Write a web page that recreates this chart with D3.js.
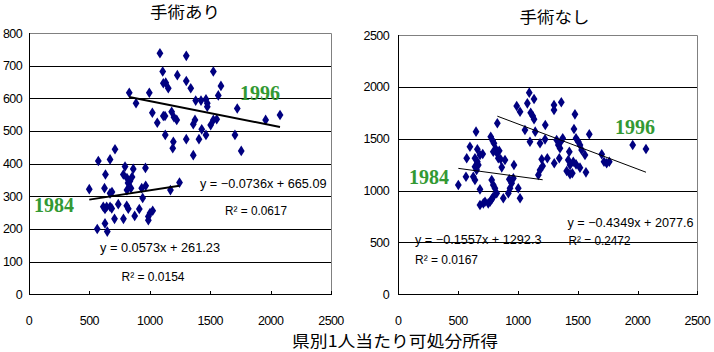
<!DOCTYPE html>
<html><head><meta charset="utf-8">
<script src="https://cdn.jsdelivr.net/npm/d3@7"></script>
<style>body{margin:0;background:#fff}svg{display:block}</style>
</head><body>
<svg id="c" width="714" height="352"></svg>
<script>
// ---------- data ----------
const xTicks = [0, 500, 1000, 1500, 2000, 2500];
const leftYTicks = [0, 100, 200, 300, 400, 500, 600, 700, 800];
const rightYTicks = [0, 500, 1000, 1500, 2000, 2500];
const panelTitles = ["手術あり", "手術なし"];
const xAxisTitle = "県別1人当たり可処分所得";

// 手術あり 1984
const surg1984 = [[712,444],[574,408],[671,413],[795,391],[863,384],[964,387],[633,367],[781,367],
 [811,356],[836,347],[853,359],[820,341],[811,319],[844,325],[499,322],[625,325],[671,309],[933,325],
 [966,332],[1171,319],[1246,342],[941,295],[615,268],[643,268],[671,268],[629,261],[685,263],[739,276],
 [809,271],[822,262],[913,261],[708,231],[782,231],[875,240],[988,238],[1002,249],[1024,256],[988,227],
 [565,200],[629,217],[648,192],[687,313]];
// 手術あり 1996
const surg1996 = [[1084,738],[1302,730],[1107,682],[1228,671],[1526,682],[1302,653],[1339,631],[1112,646],
 [1132,648],[1153,631],[830,617],[996,617],[886,585],[1380,593],[1424,593],[1465,597],[1476,585],[1567,609],
 [1589,638],[1021,556],[1112,546],[1126,546],[1181,559],[1200,542],[1223,534],[1062,525],[1374,534],[1360,521],
 [1430,505],[1465,488],[1407,475],[1504,518],[1526,534],[1554,536],[1128,488],[1195,467],[1190,447],[1302,475],
 [1360,426],[1724,569],[2078,549],[1959,534],[1705,488],[1757,439],[1476,574]];
// 手術なし 1984
const nonsurg1984 = [[650,1568],[773,1519],[789,1481],[800,1456],[817,1398],[599,1423],[661,1398],[572,1311],
 [641,1311],[661,1278],[669,1247],[683,1343],[706,1353],[641,1230],[655,1198],[794,1375],[823,1365],[844,1384],
 [836,1311],[856,1302],[892,1295],[865,1224],[967,1247],[566,1134],[627,1134],[641,1102],[683,1012],[781,1102],
 [794,1054],[808,1022],[823,974],[794,941],[781,916],[767,893],[752,877],[928,1109],[948,1070],[934,1022],
 [920,974],[962,1118],[1003,1022],[878,926],[1018,926],[683,861],[711,877],[725,893],[502,1054],[1171,1150],[1207,1237]];
// 手術なし 1996
const nonsurg1996 = [[1095,1944],[1135,1883],[990,1815],[1018,1760],[1079,1841],[1107,1751],[1124,1719],[1135,1687],
 [1302,1825],[1302,1777],[1363,1851],[828,1649],[1059,1584],[1229,1632],[1145,1568],[1101,1471],[1185,1456],[1227,1494],
 [1324,1488],[1199,1302],[1246,1311],[1185,1198],[1304,1263],[1346,1311],[1477,1735],[1469,1594],[1597,1543],[1375,1504],
 [1358,1471],[1338,1439],[1352,1408],[1486,1504],[1505,1471],[1519,1439],[1533,1391],[1430,1375],[1561,1343],[1421,1295],
 [1436,1247],[1408,1189],[1436,1157],[1455,1167],[1463,1278],[1486,1253],[1519,1221],[1569,1176],[1701,1350],[1720,1278],
 [1742,1263],[1764,1278],[1960,1439],[2071,1401]];

// regression (slope, intercept, R²) as printed on the chart
const surgFit = { y1984: [0.0573, 261.23, "0.0154"], y1996: [-0.0736, 665.09, "0.0617"] };
const nonsurgFit = { y1984: [-0.1557, 1292.3, "0.0167"], y1996: [-0.4349, 2077.6, "0.2472"] };

// ---------- drawing ----------
const svg = d3.select("#c");
const NAVY = "#000080", GREEN = "#339933";
const numFont = "'Liberation Sans', Arial, sans-serif";
const jpFont = "'Noto Sans CJK JP', sans-serif";

function fmt(v){ return (v < 0 ? "\u2212" : "") + Math.abs(v); }

const panels = [
  { title: panelTitles[0], titleX: 185, titleY: 18, left: 29, right: 331, top: 33, bottom: 294.3,
    yMax: 800, yTicks: leftYTicks, yLabelX: 22, data: [surg1984, surg1996], fit: surgFit, lineW: 2,
    yearLabels: [["1984", 34, 212], ["1996", 240, 100]],
    eqs: [ // [which, eqX, eqY, eqW, r2X, r2Y, r2W]
      ["y1984", 100, 252, 120, 121.5, 280.5, 63],
      ["y1996", 200, 187.5, 126.5, 225, 215, 62] ] },
  { title: panelTitles[1], titleX: 554.5, titleY: 23, left: 398.3, right: 697.3, top: 35, bottom: 294.3,
    yMax: 2500, yTicks: rightYTicks, yLabelX: 389, data: [nonsurg1984, nonsurg1996], fit: nonsurgFit, lineW: 1,
    yearLabels: [["1984", 409, 183.5], ["1996", 615, 133.5]],
    eqs: [
      ["y1984", 415, 244, 126.5, 415, 264, 63],
      ["y1996", 567.5, 226.5, 126, 568.5, 245, 62] ] }
];

const diamond = "M0,-5.3L3.4,0L0,5.3L-3.4,0Z";

panels.forEach(p => {
  const x = d3.scaleLinear().domain([0, 2500]).range([p.left, p.right]);
  const y = d3.scaleLinear().domain([0, p.yMax]).range([p.bottom, p.top]);
  const g = svg.append("g");

  // gridlines
  g.selectAll("line.grid").data(p.yTicks.filter(t => t > 0 && t < p.yMax)).join("line")
    .attr("x1", p.left).attr("x2", p.right)
    .attr("y1", d => Math.round(y(d)) + 0.5).attr("y2", d => Math.round(y(d)) + 0.5)
    .attr("stroke", "#000").attr("stroke-width", 1);

  // gray frame (top/right)
  g.append("path")
    .attr("d", `M${Math.round(p.left)},${Math.round(p.top)+0.5}H${Math.round(p.right)+0.5}V${Math.round(p.bottom)}`)
    .attr("fill", "none").attr("stroke", "#808080");

  // axes lines
  g.append("line").attr("x1", Math.round(p.left)+0.5).attr("x2", Math.round(p.left)+0.5)
    .attr("y1", Math.round(p.top)).attr("y2", Math.round(p.bottom)+1).attr("stroke", "#000");
  g.append("line").attr("x1", Math.round(p.left)).attr("x2", Math.round(p.right)+1)
    .attr("y1", Math.round(p.bottom)+0.5).attr("y2", Math.round(p.bottom)+0.5).attr("stroke", "#000");

  // x ticks (inside)
  g.selectAll("line.xt").data(xTicks).join("line")
    .attr("x1", d => Math.round(x(d))+0.5).attr("x2", d => Math.round(x(d))+0.5)
    .attr("y1", Math.round(p.bottom)-3).attr("y2", Math.round(p.bottom)+1).attr("stroke", "#000");

  // y tick labels
  g.selectAll("text.yl").data(p.yTicks).join("text")
    .attr("x", p.yLabelX).attr("y", d => y(d) + 4.5)
    .attr("text-anchor", "end").attr("font-family", numFont).attr("font-size", 12.5)
    .attr("letter-spacing", -0.6).text(d => d);

  // x tick labels
  g.selectAll("text.xl").data(xTicks).join("text")
    .attr("x", d => x(d)).attr("y", 325)
    .attr("text-anchor", "middle").attr("font-family", numFont).attr("font-size", 12.5)
    .attr("letter-spacing", -0.6).text(d => d);

  // title
  g.append("text").attr("x", p.titleX).attr("y", p.titleY).attr("text-anchor", "middle")
    .attr("font-family", jpFont).attr("font-size", 15.5).attr("textLength", 70)
    .attr("lengthAdjust", "spacingAndGlyphs").text(p.title);

  // points
  p.data.forEach(series => {
    g.selectAll(null).data(series).join("path")
      .attr("d", diamond).attr("fill", NAVY)
      .attr("transform", d => `translate(${x(d[0])},${y(d[1])})`);
  });

  // trend lines
  ["y1984", "y1996"].forEach((k, i) => {
    const [m, b] = p.fit[k];
    const ext = d3.extent(p.data[i], d => d[0]);
    g.append("line")
      .attr("x1", x(ext[0])).attr("y1", y(m * ext[0] + b))
      .attr("x2", x(ext[1])).attr("y2", y(m * ext[1] + b))
      .attr("stroke", "#000").attr("stroke-width", p.lineW);
  });

  // year labels
  p.yearLabels.forEach(([t, lx, ly]) => {
    g.append("text").attr("x", lx).attr("y", ly)
      .attr("font-family", "'Liberation Serif', 'Times New Roman', serif")
      .attr("font-weight", "bold").attr("font-size", 20).attr("fill", GREEN).text(t);
  });

  // equations
  p.eqs.forEach(([k, ex, ey, ew, rx, ry, rw]) => {
    const [m, b, r2] = p.fit[k];
    g.append("text").attr("x", ex).attr("y", ey).attr("font-family", numFont).attr("font-size", 12.5)
      .attr("textLength", ew).attr("lengthAdjust", "spacingAndGlyphs")
      .text(`y = ${fmt(m)}x + ${b}`);
    g.append("text").attr("x", rx).attr("y", ry).attr("font-family", numFont).attr("font-size", 12.5)
      .attr("textLength", rw).attr("lengthAdjust", "spacingAndGlyphs")
      .text(`R\u00B2 = ${r2}`);
  });
});

// x axis title
svg.append("text").attr("x", 395).attr("y", 347).attr("text-anchor", "middle")
  .attr("font-family", jpFont).attr("font-size", 16).attr("textLength", 206)
  .attr("lengthAdjust", "spacingAndGlyphs").text(xAxisTitle);
</script>
</body></html>
